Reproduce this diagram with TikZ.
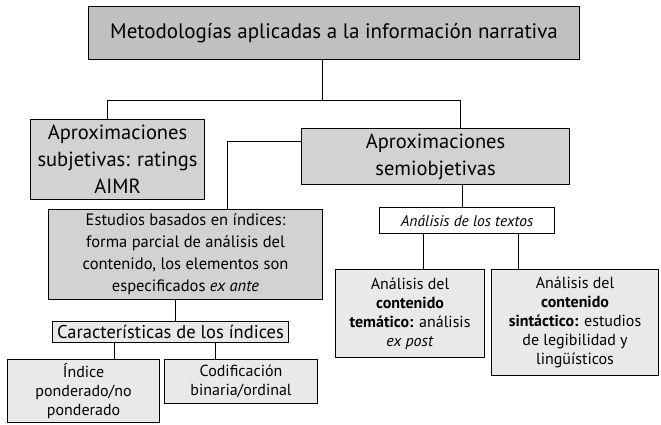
\documentclass[tikz,border=0pt]{standalone}
\usepackage{fontspec}
\setmainfont{PT Sans}
\definecolor{darkbox}{RGB}{192,192,192}
\definecolor{midbox}{RGB}{210,210,210}
\definecolor{lightbox}{RGB}{233,233,233}

\begin{document}
\begin{tikzpicture}[x=1pt, y=-1pt,
    box/.style={draw, line width=1.1pt, align=center, inner sep=0pt, anchor=north west},
    big/.style={font=\fontsize{20.5}{27}\selectfont},
    mid/.style={font=\fontsize{16.5}{22}\selectfont},
    small/.style={font=\fontsize{16}{19}\selectfont}]
  \useasboundingbox (0,0) rectangle (661,424);
  % boxes
  \node [box, font=\fontsize{21}{25}\selectfont, fill=darkbox, minimum width=491pt, minimum height=53pt] (top) at (88,6)
    {Metodologías aplicadas a la información narrativa};
  \node [box, big, fill=midbox, minimum width=174pt, minimum height=80pt] (subj) at (30,119)
    {Aproximaciones\\subjetivas: ratings\\AIMR};
  \node [box, big, fill=midbox, minimum width=268pt, minimum height=56pt] (semi) at (301,128)
    {Aproximaciones\\semiobjetivas};
  \node [box, mid, fill=midbox, minimum width=274pt, minimum height=90pt] (est) at (48,209)
    {Estudios basados en índices:\\forma parcial de análisis del\\contenido, los elementos son\\especificados \textit{ex ante}};
  \node [box, font=\fontsize{18.5}{22}\selectfont, fill=lightbox, minimum width=236pt, minimum height=21pt] (car) at (52,321)
    {Características de los índices};
  \node [box, small, fill=lightbox, minimum width=152pt, minimum height=63pt] (ind) at (7,359)
    {Índice\\ponderado/no\\ponderado};
  \node [box, small, fill=lightbox, minimum width=153pt, minimum height=44pt] (cod) at (164,359)
    {Codificación\\binaria/ordinal};
  \node [box, font=\fontsize{15.5}{18}\selectfont\itshape, fill=white, minimum width=175pt, minimum height=26pt] (txt) at (379,207)
    {Análisis de los textos};
  \node [box, small, fill=lightbox, minimum width=149pt, minimum height=88pt] (tem) at (335,269)
    {Análisis del\\\textbf{contenido}\\\textbf{temático:} análisis\\\textit{ex post}};
  \node [box, small, fill=lightbox, minimum width=167pt, minimum height=106pt] (sin) at (491,269)
    {Análisis del\\\textbf{contenido}\\\textbf{sintáctico:} estudios\\de legibilidad y\\lingüísticos};
  % connectors
  \coordinate (hub) at (322,100);
  \coordinate (hubL) at (107,100);
  \coordinate (hubR) at (460,100);
  \draw (top.south -| hub) -- (hub);
  \draw (hubL |- subj.north) -- (hubL) -- (hubR) -- (hubR |- semi.north);
  \coordinate (elb) at (227,141);
  \draw (semi.west |- elb) -- (elb) -- (elb |- est.north);
  \coordinate (e1) at (175,310);
  \draw (est.south -| e1) -- (car.north -| e1);
  \coordinate (c1) at (114,350);
  \coordinate (c2) at (215,350);
  \draw (car.south -| c1) -- (ind.north -| c1);
  \draw (car.south -| c2) -- (cod.north -| c2);
  \coordinate (s1) at (462,195);
  \draw (semi.south -| s1) -- (txt.north -| s1);
  \coordinate (t1) at (423,250);
  \coordinate (t2) at (518,250);
  \draw (txt.south -| t1) -- (tem.north -| t1);
  \draw (txt.south -| t2) -- (sin.north -| t2);
\end{tikzpicture}
\end{document}
